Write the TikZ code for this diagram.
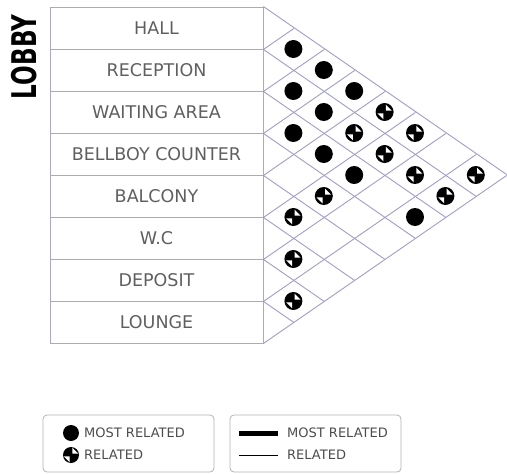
\documentclass[tikz,border=0pt]{standalone}
\usepackage{xcolor}
\usepackage{fontspec}
\setmainfont{DejaVu Sans}
\usepackage{tikz}
\usetikzlibrary{positioning}

\definecolor{gridc}{RGB}{158,158,198}
\definecolor{tablec}{RGB}{170,170,190}
\definecolor{textc}{RGB}{95,95,95}

\begin{document}
\begin{tikzpicture}[
    x=1pt, y=-1pt,
    roombox/.style={draw=tablec, line width=0.9pt, minimum width=213pt, minimum height=42pt, inner sep=0pt, font=\fontsize{17.5}{17.5}\selectfont, text=textc},
    gridline/.style={gridc, line width=0.9pt},
    mostrel/.style={circle, fill=black, minimum size=18pt, inner sep=0pt},
    related/.style={circle, fill=black, minimum size=18pt, inner sep=0pt,
        path picture={
          \fill[white] ([shift={(1.3pt,1.3pt)}]path picture bounding box.center) -- ++(0pt,6pt) -- ++(6pt,-6pt) -- cycle;
          \fill[white] ([shift={(-1.3pt,-1.3pt)}]path picture bounding box.center) -- ++(0pt,-6pt) -- ++(-6pt,6pt) -- cycle;
        }},
    legbox/.style={draw=gray!60, rounded corners=4pt, line width=0.8pt, minimum width=171pt, minimum height=57pt},
    legtext/.style={anchor=west, inner sep=0pt, font=\fontsize{13}{13}\selectfont, text=black!70}
]

\useasboundingbox (0,0) rectangle (507,474);

\node[rotate=90] (lobby) at (24,57) {\scalebox{0.68}[1]{\fontsize{34}{34}\selectfont\bfseries LOBBY}};

\node[roombox] (hall) at (156.5,28) {HALL};
\node[roombox] (reception) at (156.5,70) {RECEPTION};
\node[roombox] (waiting) at (156.5,112) {WAITING AREA};
\node[roombox] (bellboy) at (156.5,154) {BELLBOY COUNTER};
\node[roombox] (balcony) at (156.5,196) {BALCONY};
\node[roombox] (wc) at (156.5,238) {W.C};
\node[roombox] (deposit) at (156.5,280) {DEPOSIT};
\node[roombox] (lounge) at (156.5,322) {LOUNGE};

\coordinate (b0) at (hall.north east);
\coordinate (b1) at (hall.south east);
\coordinate (b2) at (reception.south east);
\coordinate (b3) at (waiting.south east);
\coordinate (b4) at (bellboy.south east);
\coordinate (b5) at (balcony.south east);
\coordinate (b6) at (wc.south east);
\coordinate (b7) at (deposit.south east);
\coordinate (b8) at (lounge.south east);

\draw[gridline] (b0) -- ++(243.2,168);
\draw[gridline] (b1) -- ++(212.8,147);
\draw[gridline] (b2) -- ++(182.4,126);
\draw[gridline] (b3) -- ++(152,105);
\draw[gridline] (b4) -- ++(121.6,84);
\draw[gridline] (b5) -- ++(91.2,63);
\draw[gridline] (b6) -- ++(60.8,42);
\draw[gridline] (b7) -- ++(30.4,21);
\draw[gridline] (b1) -- ++(30.4,-21);
\draw[gridline] (b2) -- ++(60.8,-42);
\draw[gridline] (b3) -- ++(91.2,-63);
\draw[gridline] (b4) -- ++(121.6,-84);
\draw[gridline] (b5) -- ++(152,-105);
\draw[gridline] (b6) -- ++(182.4,-126);
\draw[gridline] (b7) -- ++(212.8,-147);
\draw[gridline] (b8) -- ++(243.2,-168);

\node[mostrel] (m01) at (293.4,49) {};
\node[mostrel] (m02) at (323.8,70) {};
\node[mostrel] (m12) at (293.4,91) {};
\node[mostrel] (m03) at (354.2,91) {};
\node[mostrel] (m13) at (323.8,112) {};
\node[mostrel] (m23) at (293.4,133) {};
\node[mostrel] (m24) at (323.8,154) {};
\node[mostrel] (m25) at (354.2,175) {};
\node[mostrel] (m27) at (415,217) {};

\node[related] (r04) at (384.6,112) {};
\node[related] (r14) at (354.2,133) {};
\node[related] (r05) at (415,133) {};
\node[related] (r15) at (384.6,154) {};
\node[related] (r16) at (415,175) {};
\node[related] (r07) at (475.8,175) {};
\node[related] (r35) at (323.8,196) {};
\node[related] (r17) at (445.4,196) {};
\node[related] (r45) at (293.4,217) {};
\node[related] (r56) at (293.4,259) {};
\node[related] (r67) at (293.4,301) {};

\node[legbox] (legdots) at (128.5,443.5) {};
\node[legbox] (leglines) at (315.5,443.5) {};

\node[mostrel, minimum size=16pt] (kmost) at (71,433) {};
\node[related, minimum size=16pt] (krel) at (71,455) {};
\node[legtext] (tmost) at (84,433) {MOST RELATED};
\node[legtext] (trel) at (84,455) {RELATED};

\coordinate (ka) at (239,433);
\coordinate (kb) at (278,433);
\coordinate (kc) at (239,455);
\coordinate (kd) at (278,455);
\draw[black, line width=5pt] (ka) -- (kb);
\draw[black, line width=1pt] (kc) -- (kd);
\node[legtext] (tthick) at (287,433) {MOST RELATED};
\node[legtext] (tthin) at (287,455) {RELATED};

\end{tikzpicture}
\end{document}
